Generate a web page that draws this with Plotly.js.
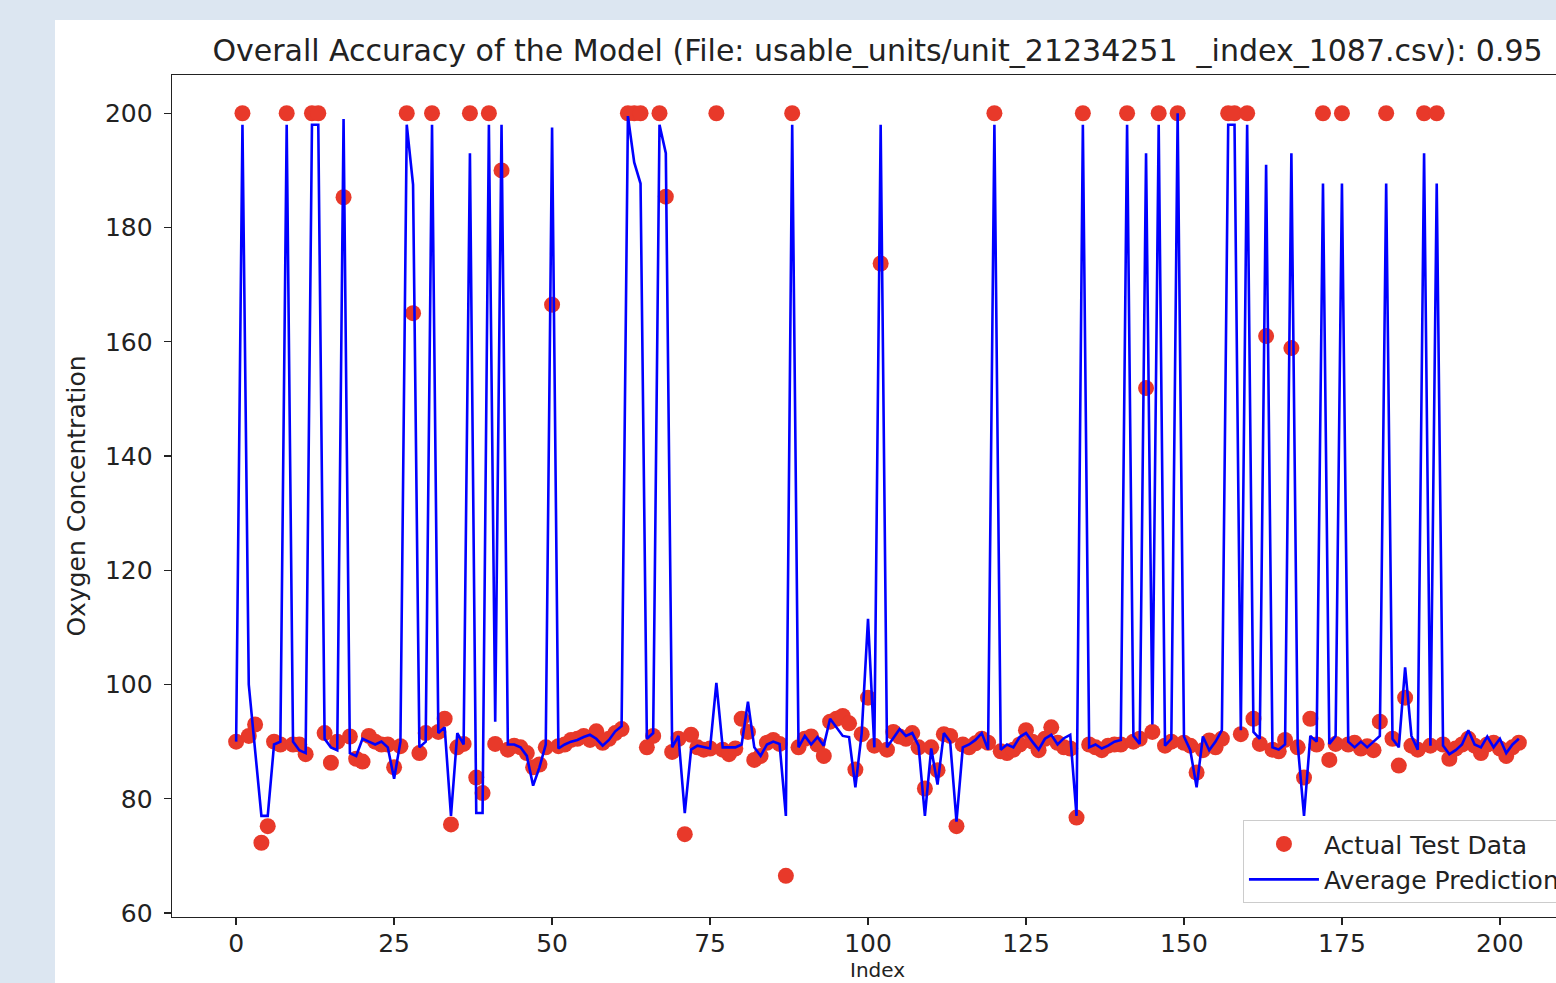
<!DOCTYPE html>
<html>
<head>
<meta charset="utf-8">
<script src="https://cdn.plot.ly/plotly-3.0.1.min.js"></script>
<style>
  html, body { margin:0; padding:0; background:#dce6f1; width:1556px; height:983px; overflow:hidden; }
  #frame { position:absolute; left:55px; top:20px; width:1620px; height:1000px; background:#ffffff; }
  #chart { width:1620px; height:1000px; }
</style>
</head>
<body>
<div id="frame"><div id="chart"></div></div>
<script>
const chartTitle = "Overall Accuracy of the Model (File: usable_units/unit_21234251\u00a0 _index_1087.csv): 0.95";
const xTitle = "Index";
const yTitle = "Oxygen Concentration";
const seriesNames = ["Actual Test Data", "Average Prediction"];
const xTicks = [0, 25, 50, 75, 100, 125, 150, 175, 200];
const yTicks = [60, 80, 100, 120, 140, 160, 180, 200];

const actual = [
  90, 200, 91, 93, 72.3, 75.2, 90, 89.5, 200, 89.5,
  89.5, 87.8, 200, 200, 91.5, 86.3, 90, 185.3, 90.9, 87,
  86.5, 91, 90, 89.5, 89.5, 85.5, 89.2, 200, 165, 88,
  91.5, 200, 91.7, 94, 75.5, 89, 89.6, 200, 83.7, 81,
  200, 89.6, 190, 88.6, 89.3, 89, 88, 85.5, 86, 89,
  166.5, 89.2, 89.5, 90.3, 90.5, 91, 90.3, 91.8, 89.8, 90.5,
  91.5, 92.2, 200, 200, 200, 89, 91, 200, 185.4, 88.2,
  90.5, 73.8, 91.2, 89, 88.6, 88.8, 200, 88.6, 87.8, 88.8,
  94, 91.7, 86.8, 87.5, 89.8, 90.3, 89.6, 66.5, 200, 89,
  90.5, 90.9, 89.5, 87.5, 93.5, 94, 94.5, 93.2, 85.1, 91.3,
  97.7, 89.3, 173.7, 88.6, 91.7, 90.9, 90.5, 91.5, 89, 81.8,
  89, 85, 91.3, 91, 75.2, 89.5, 89, 89.7, 90.5, 89.8,
  200, 88.3, 88, 88.6, 89.5, 92, 90, 88.5, 90.5, 92.5,
  89.8, 89, 88.8, 76.7, 200, 89.5, 89, 88.5, 89.3, 89.5,
  89.5, 200, 90, 90.5, 151.9, 91.7, 200, 89.3, 90, 200,
  89.8, 89.3, 84.6, 88.5, 90.2, 89, 90.5, 200, 200, 91.3,
  200, 94, 89.6, 161, 88.6, 88.3, 90.3, 158.9, 89, 83.7,
  94, 89.5, 200, 86.8, 89.6, 200, 89.5, 89.8, 88.8, 89.2,
  88.5, 93.5, 200, 90.5, 85.8, 97.7, 89.3, 88.6, 200, 89.3,
  200, 89.5, 87, 88.8, 89.5, 90.5, 89.3, 88, 89.5, 89.8,
  88.8, 87.5, 89, 89.8
];

const prediction = [
  90, 198, 100, 88, 77, 77, 89.5, 90, 198, 90,
  88.5, 88, 198, 198, 90.5, 89, 88.5, 199, 88, 87.5,
  90.5, 90, 89.5, 90, 89, 83.5, 90, 198, 187.5, 89,
  90, 198, 91.5, 92.5, 77, 91.5, 89.5, 193, 77.5, 77.5,
  198, 93.5, 198, 89.5, 89.5, 89, 87.5, 82.3, 85.5, 89.5,
  197.5, 88.8, 89.5, 90, 90.3, 90.8, 91.2, 90.5, 89.3, 90.3,
  91.8, 92.7, 199.5, 191.4, 187.7, 90.5, 91.5, 198, 193, 89,
  91, 77.5, 88.6, 89.3, 89, 88.8, 100.3, 89, 89, 89,
  89.5, 97, 89, 87.5, 89.5, 90, 89.6, 77, 198, 89,
  91, 89.5, 90.8, 89.3, 94, 92.5, 91, 90.8, 82, 91.5,
  111.5, 89, 198, 89, 90.5, 92.2, 91, 91.5, 89.3, 77,
  88.8, 82.5, 91.5, 90, 76, 89, 89.5, 90.3, 91.5, 88.6,
  198, 88.6, 89.5, 89, 90.8, 91.5, 90, 88.6, 90.5, 91.2,
  89.5, 90.6, 91.2, 77, 198, 89, 89.5, 88.8, 89.3, 90,
  90.3, 198, 91, 89.6, 193, 93, 198, 89.3, 90.5, 200,
  90.9, 88.5, 82, 90.9, 88.5, 90, 92, 198, 198, 92,
  198, 91.7, 90.5, 191, 89, 88.6, 89.5, 193, 89.5, 77,
  91, 90, 187.7, 89.6, 91, 187.7, 90, 89, 90, 89,
  90, 91, 187.7, 90.5, 89, 103, 91, 88.6, 193, 89.3,
  187.7, 89.3, 87.8, 88.5, 89.5, 92, 89.5, 89, 90.9, 89,
  90.5, 88, 89.5, 90.5
];

const idx = actual.map((_, i) => i);

const traces = [
  {
    x: idx, y: actual, type: 'scatter', mode: 'markers', name: seriesNames[0],
    marker: { color: '#e8392a', size: 16, line: { width: 0 } }
  },
  {
    x: idx, y: prediction, type: 'scatter', mode: 'lines', name: seriesNames[1],
    line: { color: '#0000ff', width: 2.6 }
  }
];

const axisCommon = {
  showgrid: false, zeroline: false, showline: true, mirror: true,
  linecolor: '#222222', linewidth: 1.4,
  ticks: 'outside', ticklen: 7, tickwidth: 1.4, tickcolor: '#222222',
  tickfont: { family: 'DejaVu Sans', size: 25, color: '#222222' }
};

const layout = {
  width: 1620, height: 1000,
  paper_bgcolor: '#ffffff', plot_bgcolor: '#ffffff',
  margin: { l: 117, r: 92, t: 55, b: 103 },
  font: { family: 'DejaVu Sans', color: '#222222' },
  title: {
    text: chartTitle, x: 0.5, xref: 'paper', xanchor: 'center',
    y: 1, yref: 'paper', yanchor: 'bottom', pad: { b: 14 },
    font: { family: 'DejaVu Sans', size: 30, color: '#222222' }
  },
  xaxis: Object.assign({}, axisCommon, {
    range: [-10.15, 213.15], tickvals: xTicks, ticktext: xTicks.map(String),
    ticklabelstandoff: -3
  }),
  yaxis: Object.assign({}, axisCommon, {
    range: [59.3, 206.7], tickvals: yTicks, ticktext: yTicks.map(String),
    ticklabelstandoff: 6,
    title: { text: yTitle, standoff: 12, font: { family: 'DejaVu Sans', size: 25, color: '#222222' } }
  }),
  annotations: [{
    text: xTitle, xref: 'paper', yref: 'paper', x: 0.5, y: -0.0785,
    xanchor: 'center', yanchor: 'bottom', showarrow: false, borderpad: 0,
    font: { family: 'DejaVu Sans', size: 20, color: '#222222' }
  }],
  showlegend: true,
  legend: {
    x: 0.759, y: 0.115, xanchor: 'left', yanchor: 'top',
    bgcolor: 'rgba(255,255,255,0.85)', bordercolor: '#cccccc', borderwidth: 1,
    font: { family: 'DejaVu Sans', size: 25, color: '#222222' },
    itemwidth: 70, tracegroupgap: 2
  }
};

Plotly.newPlot('chart', traces, layout, { displayModeBar: false, staticPlot: true });
</script>
</body>
</html>
